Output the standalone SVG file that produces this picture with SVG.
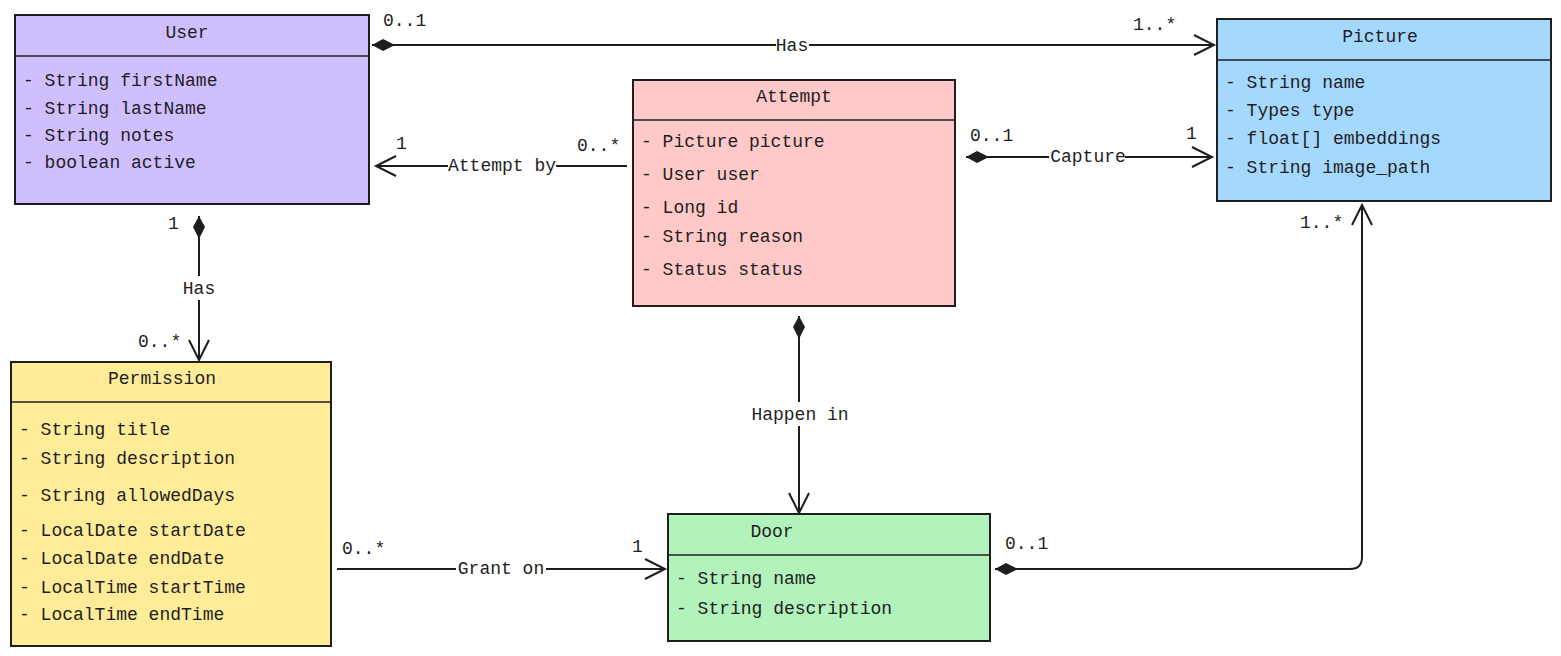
<svg xmlns="http://www.w3.org/2000/svg" width="1561" height="656" viewBox="0 0 1561 656">
<style>
text{font-family:"Liberation Mono","DejaVu Sans Mono",monospace;font-size:18px;fill:#1e1e1e}
.t{text-anchor:middle}
.box{stroke:#1e1e1e;stroke-width:2}
.div{stroke:#1e1e1e;stroke-width:1.5}
.e{fill:none;stroke:#1e1e1e;stroke-width:2}
.lb{fill:#fff}
</style>
<defs>
<marker id="dia" viewBox="-2 -8 28 16" markerWidth="28" markerHeight="16" refX="0" refY="0" orient="auto" markerUnits="userSpaceOnUse">
<path d="M0,0 L11,-6 L23,0 L11,6 Z" fill="#1e1e1e"/>
</marker>
<marker id="arr" viewBox="-24 -14 28 28" markerWidth="28" markerHeight="28" refX="0" refY="0" orient="auto" markerUnits="userSpaceOnUse">
<path d="M-20,-10 L0,0 L-20,10" fill="none" stroke="#1e1e1e" stroke-width="2"/>
</marker>
</defs>
<rect width="1561" height="656" fill="#fff"/>

<g id="connectors">
<path class="e" d="M372,45 L1214,45" marker-start="url(#dia)" marker-end="url(#arr)"/>
<path class="e" d="M627,166 L376,166" marker-end="url(#arr)"/>
<path class="e" d="M966,157 L1212,157" marker-start="url(#dia)" marker-end="url(#arr)"/>
<path class="e" d="M199,216 L199,360" marker-start="url(#dia)" marker-end="url(#arr)"/>
<path class="e" d="M799,316 L799,513" marker-start="url(#dia)" marker-end="url(#arr)"/>
<path class="e" d="M337,569 L665,569" marker-end="url(#arr)"/>
<path class="e" d="M995,569 L1350,569 Q1362,569 1362,557 L1362,205" marker-start="url(#dia)" marker-end="url(#arr)"/>

<rect class="lb" x="776" y="36" width="33" height="18"/>
<text class="t" x="792" y="51">Has</text>
<text x="383" y="26">0..1</text>
<text x="1133" y="30">1..*</text>

<rect class="lb" x="448" y="156" width="108" height="18"/>
<text class="t" x="502" y="171">Attempt by</text>
<text x="396" y="149">1</text>
<text x="577" y="151">0..*</text>

<rect class="lb" x="1049" y="148" width="76" height="18"/>
<text class="t" x="1088" y="162">Capture</text>
<text x="970" y="141">0..1</text>
<text x="1186" y="139">1</text>

<rect class="lb" x="180" y="276" width="38" height="24"/>
<text class="t" x="199" y="294">Has</text>
<text x="168" y="229">1</text>
<text x="138" y="347">0..*</text>

<rect class="lb" x="748" y="402" width="104" height="24"/>
<text class="t" x="800" y="420">Happen in</text>

<rect class="lb" x="456" y="560" width="90" height="18"/>
<text class="t" x="501" y="574">Grant on</text>
<text x="342" y="554">0..*</text>
<text x="632" y="552">1</text>

<text x="1005" y="549">0..1</text>
<text x="1300" y="228">1..*</text>
</g>

<g id="User">
<rect class="box" x="15" y="15" width="354" height="189" fill="#d0bfff"/>
<line class="div" x1="15" y1="56" x2="369" y2="56"/>
<text class="t" x="187" y="38">User</text>
<text x="23" y="86">- String firstName</text>
<text x="23" y="114">- String lastName</text>
<text x="23" y="141">- String notes</text>
<text x="23" y="168">- boolean active</text>
</g>

<g id="Picture">
<rect class="box" x="1217" y="19" width="334" height="182" fill="#a5d8ff"/>
<line class="div" x1="1217" y1="60" x2="1551" y2="60"/>
<text class="t" x="1380" y="42">Picture</text>
<text x="1225" y="88">- String name</text>
<text x="1225" y="116">- Types type</text>
<text x="1225" y="144">- float[] embeddings</text>
<text x="1225" y="173">- String image_path</text>
</g>

<g id="Attempt">
<rect class="box" x="633" y="80" width="322" height="226" fill="#ffc9c9"/>
<line class="div" x1="633" y1="120" x2="955" y2="120"/>
<text class="t" x="794" y="102">Attempt</text>
<text x="641" y="147">- Picture picture</text>
<text x="641" y="180">- User user</text>
<text x="641" y="213">- Long id</text>
<text x="641" y="242">- String reason</text>
<text x="641" y="275">- Status status</text>
</g>

<g id="Permission">
<rect class="box" x="11" y="362" width="320" height="284" fill="#ffec99"/>
<line class="div" x1="11" y1="402" x2="331" y2="402"/>
<text class="t" x="162" y="384">Permission</text>
<text x="19" y="435">- String title</text>
<text x="19" y="464">- String description</text>
<text x="19" y="501">- String allowedDays</text>
<text x="19" y="536">- LocalDate startDate</text>
<text x="19" y="564">- LocalDate endDate</text>
<text x="19" y="593">- LocalTime startTime</text>
<text x="19" y="620">- LocalTime endTime</text>
</g>

<g id="Door">
<rect class="box" x="668" y="514" width="322" height="127" fill="#b2f2bb"/>
<line class="div" x1="668" y1="555" x2="990" y2="555"/>
<text class="t" x="772" y="537">Door</text>
<text x="676" y="584">- String name</text>
<text x="676" y="614">- String description</text>
</g>
</svg>
